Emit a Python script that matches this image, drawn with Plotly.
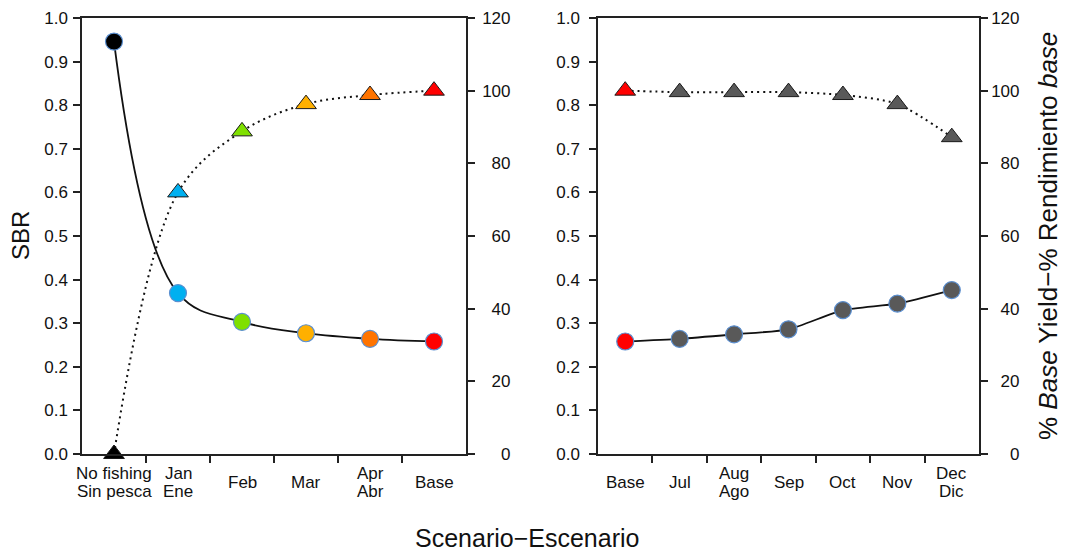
import plotly.graph_objects as go

# ---- data ---------------------------------------------------------------
left_labels = ["No fishing\nSin pesca", "Jan\nEne", "Feb", "Mar", "Apr\nAbr", "Base"]
left_sbr = [0.946, 0.369, 0.303, 0.277, 0.264, 0.258]
left_yield = [0, 72.0, 88.8, 96.3, 98.8, 100]
left_colors = ["#000000", "#00b0f0", "#7fe000", "#ffb000", "#ff7400", "#ff0000"]

right_labels = ["Base", "Jul", "Aug\nAgo", "Sep", "Oct", "Nov", "Dec\nDic"]
right_sbr = [0.258, 0.264, 0.2745, 0.286, 0.330, 0.345, 0.376]
right_yield = [100, 99.6, 99.6, 99.6, 98.8, 96.3, 87.2]
right_colors = ["#ff0000"] + ["#595959"] * 6

sbr_ticks = [i / 10 for i in range(11)]
yield_ticks = [0, 20, 40, 60, 80, 100, 120]

# ---- layout geometry ----------------------------------------------------
W, H = 1065, 552
FONT = "Liberation Sans, Arial, sans-serif"
AX = "#222222"
dom_y = [1 - 454 / H, 1 - 18 / H]
dom_x1 = [82 / W, 466 / W]
dom_x2 = [598 / W, 979 / W]

fig = go.Figure()


def add_panel(xs, sbr, yld, colors, xa, ya_left, ya_right, smooth_c, smooth_t):
    fig.add_trace(go.Scatter(
        x=xs, y=yld, xaxis=xa, yaxis=ya_right, mode="lines+markers",
        line=dict(color="#111111", width=2, dash="2px,4px", shape="spline", smoothing=smooth_t),
        marker=dict(symbol="triangle-up", size=18, color=colors,
                    line=dict(color="#1a1a1a", width=1)),
        cliponaxis=False, showlegend=False, hoverinfo="skip"))
    fig.add_trace(go.Scatter(
        x=xs, y=sbr, xaxis=xa, yaxis=ya_left, mode="lines+markers",
        line=dict(color="#111111", width=1.8, shape="spline", smoothing=smooth_c),
        marker=dict(symbol="circle", size=17, color=colors,
                    line=dict(color="#5b8fd0", width=1.2)),
        cliponaxis=False, showlegend=False, hoverinfo="skip"))


xl = list(range(len(left_labels)))
xr = list(range(len(right_labels)))
add_panel(xl, left_sbr, left_yield, left_colors, "x", "y", "y2", 1.1, 1.0)
add_panel(xr, right_sbr, right_yield, right_colors, "x2", "y3", "y4", 0.6, 0.8)

tick_font = dict(family=FONT, size=17, color="#111111")


def xaxis(domain, n, anchor):
    return dict(domain=domain, anchor=anchor, range=[-0.5, n - 0.5], automargin=False,
                showgrid=False, zeroline=False, showline=True, mirror=True,
                linecolor=AX, linewidth=1.5, ticks="", showticklabels=False,
                minor=dict(tickvals=[i + 0.5 for i in range(n - 1)], ticks="outside",
                           ticklen=7, tickwidth=1.5, tickcolor=AX, showgrid=False))


def yaxis_left(domain_anchor, standoff):
    return dict(domain=dom_y, anchor=domain_anchor, range=[0, 1], automargin=False,
                tickvals=sbr_ticks, ticktext=[f"{v:.1f}" for v in sbr_ticks],
                showgrid=False, zeroline=False, showline=True, linecolor=AX,
                linewidth=1.5, ticks="outside", ticklen=7, tickwidth=1.5,
                tickcolor=AX, tickfont=tick_font, ticklabelstandoff=standoff)


def yaxis_right(overlay, anchor, standoff):
    txt = [("\u2007" * (3 - len(str(v)))) + str(v) for v in yield_ticks]
    return dict(overlaying=overlay, anchor=anchor, side="right", range=[0, 120],
                automargin=False, tickvals=yield_ticks, ticktext=txt,
                showgrid=False, zeroline=False,
                showline=True, linecolor=AX, linewidth=1.5, ticks="outside",
                ticklen=7, tickwidth=1.5, tickcolor=AX, tickfont=tick_font,
                ticklabelstandoff=standoff)


fig.update_layout(
    template="none",
    width=W, height=H, margin=dict(l=0, r=0, t=0, b=0, autoexpand=False),
    paper_bgcolor="white", plot_bgcolor="white",
    font=dict(family=FONT, color="#111111"),
    xaxis=xaxis(dom_x1, len(left_labels), "y"),
    xaxis2=xaxis(dom_x2, len(right_labels), "y3"),
    yaxis=yaxis_left("x", 2),
    yaxis2=yaxis_right("y", "x", 4),
    yaxis3=yaxis_left("x2", 6),
    yaxis4=yaxis_right("y3", "x2", 0),
)

# category labels under each panel, one annotation per text line
annotations = []
for xref, labels in (("x", left_labels), ("x2", right_labels)):
    for i, lab in enumerate(labels):
        lines = lab.split("\n")
        shifts = [-28] if len(lines) == 1 else [-19, -37]
        for line, sh in zip(lines, shifts):
            annotations.append(dict(
                x=i, y=dom_y[0], xref=xref, yref="paper", text=line,
                showarrow=False, xanchor="center", yanchor="middle", yshift=sh,
                font=tick_font))

# axis titles
annotations.append(dict(x=20 / W, y=1 - 236 / H, xref="paper", yref="paper", text="SBR",
                        textangle=-90, showarrow=False, xanchor="center", yanchor="middle",
                        font=dict(family=FONT, size=24, color="#111111")))
annotations.append(dict(x=1048 / W, y=1 - 236 / H, xref="paper", yref="paper",
                        text="% <i>Base</i> Yield\u2212% Rendimiento <i>base</i>",
                        textangle=-90, showarrow=False, xanchor="center", yanchor="middle",
                        font=dict(family=FONT, size=26, color="#111111")))
annotations.append(dict(x=527 / W, y=1 - 538 / H, xref="paper", yref="paper",
                        text="Scenario\u2212Escenario", showarrow=False,
                        xanchor="center", yanchor="middle",
                        font=dict(family=FONT, size=25, color="#111111")))
fig.update_layout(annotations=annotations)

fig.write_html("out.html")
